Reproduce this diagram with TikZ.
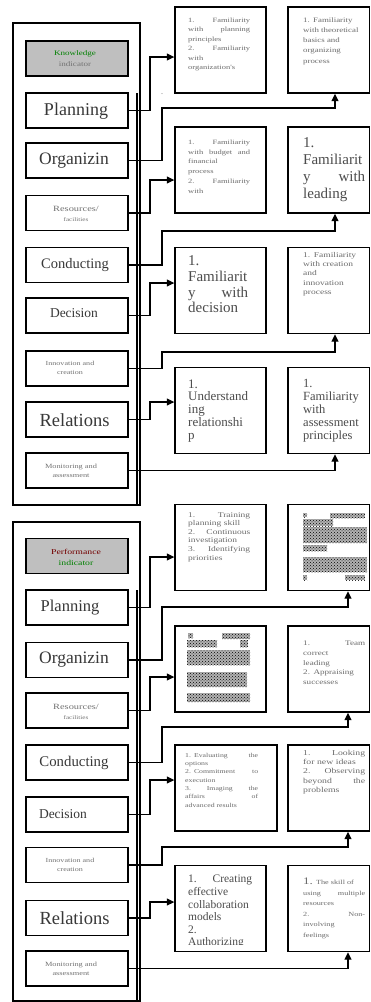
\documentclass[tikz,border=0pt]{standalone}
\usepackage{fontspec}
\setmainfont{Liberation Serif}
\newfontfamily\wf[FakeStretch=1.3]{Liberation Serif}
\usetikzlibrary{arrows.meta,patterns}
\newcommand\smtx[2]{\wf\fontsize{#1}{#2}\selectfont\lineskiplimit=-30pt\relax}
\newcommand\bgtx[2]{\fontsize{#1}{#2}\selectfont\lineskiplimit=-30pt\relax}
\begin{document}
\begin{tikzpicture}[x=1pt,y=-1pt,
  bx/.style={draw=black,line width=1.35pt,inner sep=0pt,rectangle},
  lb/.style={bx,minimum width=102pt,minimum height=35pt},
  ttl/.style={lb,fill=black!25},
  rb1/.style={bx,minimum width=91pt,minimum height=86pt},
  rb2/.style={bx,minimum width=81.5pt,minimum height=86pt},
  conn/.style={draw=black,line width=1.3pt},
  arr/.style={conn,-{Triangle[length=7.5pt,width=7pt]}},
  lt/.style={inner sep=0pt,text=black!78,align=center},
  st/.style={inner sep=0pt,text=black!55,align=center},
  rt/.style={inner sep=0pt,anchor=north west,text=black!58,align=left},
  rtb/.style={inner sep=0pt,anchor=north west,text=black!70,align=left},
  chk/.style={fill=black!30,postaction={pattern=crosshatch dots,pattern color=black}}
]
\useasboundingbox (0,0) rectangle (371,1002);
\fill[white] (0,0) rectangle (371,1002);

% ================= TOP SECTION =================
\node[bx,minimum width=127pt,minimum height=482pt] (touter) at (76.5,264) {};
\draw[conn] (137,93) -- (touter.south -| 137,0);

\node[ttl] (tt) at (77,58.5) {};
\node[lb] (tp) at (77,110.5) {};
\node[lb] (to) at (77,160.5) {};
\node[lb] (tr) at (77,213) {};
\node[lb] (tc) at (77,265) {};
\node[lb] (td) at (77,315.5) {};
\node[lb] (ti) at (77,368.5) {};
\node[lb] (tl) at (77,419.5) {};
\node[lb] (tm) at (77,470.5) {};

\node[st,font=\smtx{7}{11}] (ttl) at (75,59) {{\color{green!50!black}Knowledge}\\indicator};
\node[lt,font=\bgtx{18}{18}] (tpl) at (76,111) {Planning};
\node[lt,font=\bgtx{17.5}{18}] (tol) at (74,161) {Organizin};
\node[st,font=\smtx{8}{10}] (trl) at (76,214) {Resources/\\{\smtx{5.5}{10}facilities}};
\node[lt,font=\bgtx{14.5}{15}] (tcl) at (75,265.5) {Conducting};
\node[lt,font=\bgtx{13.5}{14}] (tdl) at (74,313) {Decision};
\node[st,font=\smtx{6.2}{9}] (til) at (70,368) {Innovation and\\creation};
\node[lt,font=\bgtx{18.5}{19}] (tll) at (74.5,420) {Relations};
\node[st,font=\smtx{6.4}{9}] (tml) at (71,470.5) {Monitoring and\\assessment};

\node[rb1] (ta1) at (220.5,50) {};
\node[rb2] (tb1) at (328.75,50) {};
\node[rb1] (ta2) at (220.5,170) {};
\node[rb2] (tb2) at (328.75,170) {};
\node[rb1] (ta3) at (220.5,290.5) {};
\node[rb2] (tb3) at (328.75,290.5) {};
\node[rb1] (ta4) at (220.5,410.5) {};
\node[rb2] (tb4) at (328.75,410.5) {};

\node[inner sep=0pt,font=\bgtx{8}{8},text=black!60] (stray) at (162,94) {.};

\begin{scope}
\clip (176,8) rectangle (265,92);
\node[rt,text width=62pt,font=\smtx{6.5}{9.5}] (x1) at (188,17.5)
 {1.\hfill Familiarity\\with\hfill planning\\principles\\2.\hfill Familiarity\\with\\organization's};
\end{scope}
\node[rt,text width=62pt,font=\smtx{6.8}{10.2}] (x2) at (303,17.3)
 {1. Familiarity\\with theoretical\\basics and\\organizing\\process};
\begin{scope}
\clip (176,128) rectangle (265,212);
\node[rt,text width=62pt,font=\smtx{6.5}{9.8}] (x3) at (188,139.5)
 {1.\hfill Familiarity\\with\hfill budget\hfill and\\financial\\process\\2.\hfill Familiarity\\with};
\end{scope}
\node[rtb,text width=62pt,font=\bgtx{15}{17}] (x4) at (303,137.7)
 {1.\\Familiarit\\y\hfill with\\leading};
\node[rtb,text width=60pt,font=\bgtx{15}{15.7}] (x5) at (188,255.7)
 {1.\\Familiarit\\y\hfill with\\decision};
\node[rt,text width=62pt,font=\smtx{7.3}{9.3}] (x6) at (303,252)
 {1. Familiarity\\with creation\\and\\innovation\\process};
\node[rtb,text width=62pt,font=\bgtx{13}{12.8}] (x7) at (188,379.4)
 {1.\\Understand\\ing\\relationshi\\p};
\begin{scope}
\clip (289,369) rectangle (368,443);
\node[rtb,text width=62pt,font=\bgtx{12.5}{12.8}] (x8) at (303,379.4)
 {1.\\Familiarity\\with\\assessment\\principles};
\end{scope}

\draw[arr] (tp.east) -| (150,57) -- (ta1.west |- 150,57);
\draw[arr] (to.east) -| (162,108) -- (335,108) -- (tb1.south -| 335,0);
\draw[arr] (tr.east) -| (150,180) -- (ta2.west |- 150,180);
\draw[arr] (tc.east) -| (162,231) -- (335,231) -- (tb2.south -| 335,0);
\draw[arr] (td.east) -| (150,283) -- (ta3.west |- 150,283);
\draw[arr] (ti.east) -| (162,352) -- (335,352) -- (tb3.south -| 335,0);
\draw[arr] (tl.east) -| (150,402) -- (ta4.west |- 150,402);
\draw[arr] (tm.east) -| (tb4.south -| 335,0);

% ================= BOTTOM SECTION =================
\node[bx,minimum width=127pt,minimum height=479pt] (bouter) at (76.5,761.5) {};
\draw[conn] (137,590) -- (bouter.south -| 137,0);

\node[ttl] (bt) at (77,556) {};
\node[lb] (bp) at (77,607.5) {};
\node[lb] (bo) at (77,660) {};
\node[lb] (br) at (77,710.5) {};
\node[lb] (bc) at (77,762.5) {};
\node[lb] (bd) at (77,814.5) {};
\node[lb] (bi) at (77,865) {};
\node[lb] (bl) at (77,918) {};
\node[lb] (bm) at (77,968.5) {};

\node[st,font=\smtx{7.5}{11}] (btl) at (76,557) {{\color{black!55!red}Performance}\\{\color{green!50!black}indicator}};
\node[lt,font=\bgtx{16.5}{17}] (bpl) at (70,607.5) {Planning};
\node[lt,font=\bgtx{17.5}{18}] (bol) at (74,660) {Organizin};
\node[st,font=\smtx{8}{10}] (brl) at (76,712) {Resources/\\{\smtx{5.5}{10}facilities}};
\node[lt,font=\bgtx{14.8}{15}] (bcl) at (74,762.5) {Conducting};
\node[lt,font=\bgtx{13.5}{14}] (bdl) at (63,814) {Decision};
\node[st,font=\smtx{6.2}{9}] (bil) at (70,865) {Innovation and\\creation};
\node[lt,font=\bgtx{18.5}{19}] (bll) at (74.5,918) {Relations};
\node[st,font=\smtx{6.4}{9}] (bml) at (71,968.5) {Monitoring and\\assessment};

\node[rb1] (ba1) at (220.5,547.5) {};
\node[rb2] (bb1) at (328.75,547.5) {};
\node[rb1] (ba2) at (220.5,669) {};
\node[rb2] (bb2) at (328.75,669) {};
\node[bx,minimum width=102pt,minimum height=86pt] (ba3) at (226,788) {};
\node[rb2] (bb3) at (328.75,788) {};
\node[rb1] (ba4) at (220.5,908.5) {};
\node[rb2] (bb4) at (328.75,908.5) {};

\node[rt,text width=62pt,font=\smtx{7.3}{8.6}] (y1) at (188,512)
 {1.\hfill Training\\planning skill\\2.\hfill Continuous\\investigation\\3.\hfill Identifying\\priorities};
% garbled glyph blocks
\fill[chk] (303,513) rectangle (307,517);
\fill[chk] (330,513) rectangle (365,518);
\fill[chk] (303,519) rectangle (333,526);
\fill[chk] (303,527) rectangle (367,543);
\fill[chk] (303,545) rectangle (327,551);
\fill[chk] (303,557) rectangle (367,572);
\fill[chk] (303,575) rectangle (307,580);
\fill[chk] (345,575) rectangle (365,580);

\fill[chk] (188,633) rectangle (193,638);
\fill[chk] (222,633) rectangle (250,639);
\fill[chk] (187,640) rectangle (217,647);
\fill[chk] (240,640) rectangle (248,647);
\fill[chk] (187,650) rectangle (250,665);
\fill[chk] (187,672) rectangle (247,687);
\fill[chk] (187,693) rectangle (250,702);

\node[rt,text width=62pt,font=\smtx{7}{9.7}] (y2) at (303,641)
 {1.\hfill Team\\correct\\leading\\2. Appraising\\successes};
\begin{scope}
\clip (176,746) rectangle (276,808);
\node[rt,text width=73pt,font=\smtx{6}{8.3}] (y3) at (185,752.9)
 {1. Evaluating\hfill the\\options\\2. Commitment\hfill to\\execution\\3.\hfill Imaging\hfill the\\affairs\hfill of\\advanced results};
\end{scope}
\node[rt,text width=62pt,font=\smtx{7.5}{9.3}] (y4) at (303,749.8)
 {1.\hfill Looking\\for new ideas\\2.\hfill Observing\\beyond\hfill the\\problems};
\begin{scope}
\clip (176,866) rectangle (265,944);
\node[rtb,text width=64pt,font=\bgtx{11.5}{12.6}] (y5) at (188,875)
 {1.\hfill Creating\\effective\\collaboration\\models\\2.\\Authorizing};
\end{scope}
\node[rt,text width=62pt,font=\smtx{6.3}{10.5}] (y6) at (303,878)
 {{\bgtx{10}{10}1.} The skill of\\using\hfill multiple\\resources\\2.\hfill Non-\\involving\\feelings};

\draw[arr] (bp.east) -| (150,557) -- (ba1.west |- 150,557);
\draw[arr] (bo.east) -| (162,607) -- (348,607) -- (bb1.south -| 348,0);
\draw[arr] (br.east) -| (150,677) -- (ba2.west |- 150,677);
\draw[arr] (bc.east) -| (162,727) -- (348,727) -- (bb2.south -| 348,0);
\draw[arr] (bd.east) -| (150,780) -- (ba3.west |- 150,780);
\draw[arr] (bi.east) -| (162,847) -- (348,847) -- (bb3.south -| 348,0);
\draw[arr] (bl.east) -| (150,902) -- (ba4.west |- 150,902);
\draw[arr] (bm.east) -| (bb4.south -| 348,0);
\end{tikzpicture}
\end{document}
